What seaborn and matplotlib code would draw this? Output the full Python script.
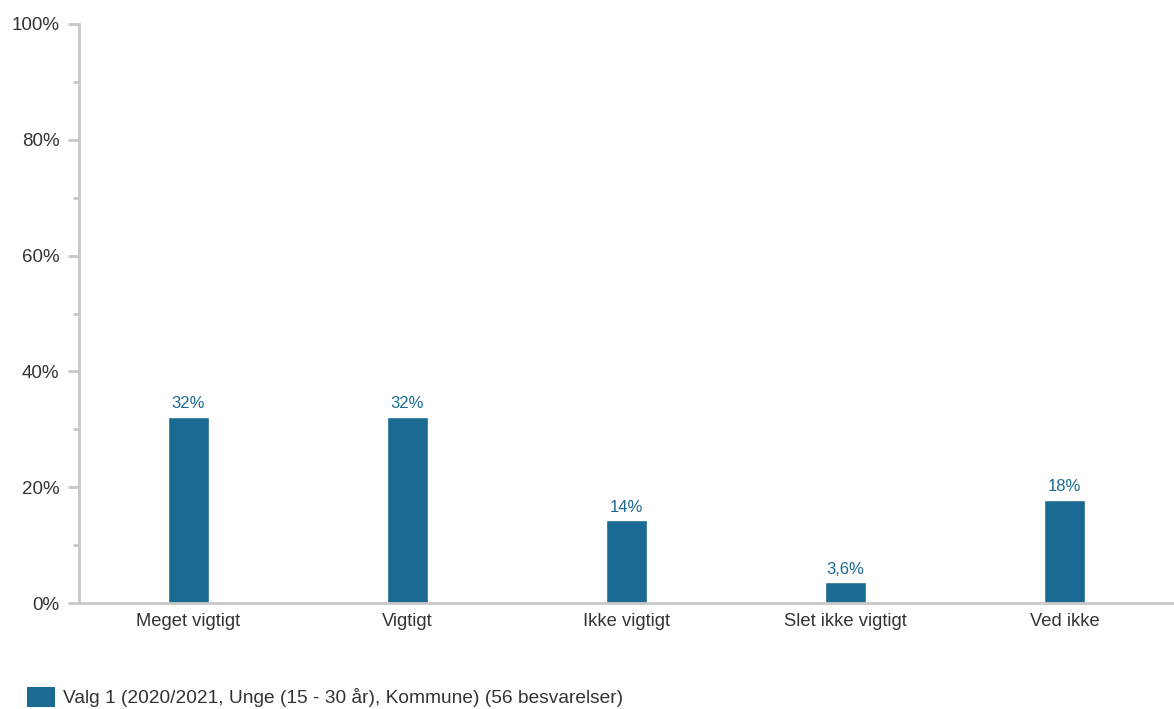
import numpy as np
import pandas as pd
import seaborn as sns
import matplotlib.pyplot as plt
from matplotlib.patches import Patch
from matplotlib.ticker import MultipleLocator, PercentFormatter

categories = ['Meget vigtigt', 'Vigtigt', 'Ikke vigtigt', 'Slet ikke vigtigt', 'Ved ikke']
counts = [18, 18, 8, 2, 10]
total = 56
value_labels = ['32%', '32%', '14%', '3,6%', '18%']
series_name = 'Valg 1 (2020/2021, Unge (15 - 30 år), Kommune) (56 besvarelser)'

bar_color = '#1b6a93'
axis_color = '#c8c8c8'
text_color = '#333333'

df = pd.DataFrame({'kategori': categories, 'andel': [c / total * 100 for c in counts]})

sns.set_style('white')
plt.rcParams['font.family'] = ['Liberation Sans', 'DejaVu Sans']

fig = plt.figure(figsize=(11.74, 7.09), dpi=100)
ax = fig.add_axes([79 / 1174, 1 - 603 / 709, (1174 - 79) / 1174, (603 - 24) / 709])

sns.barplot(data=df, x='kategori', y='andel', color=bar_color, width=0.187,
            saturation=1, ax=ax)

for i, (v, lab) in enumerate(zip(df['andel'], value_labels)):
    ax.annotate(lab, (i, v), xytext=(0, 4), textcoords='offset points',
                ha='center', va='bottom', fontsize=12, color=bar_color)

ax.set_xlim(-0.5, 4.5)
ax.set_ylim(0, 100)
ax.yaxis.set_major_locator(MultipleLocator(20))
ax.yaxis.set_minor_locator(MultipleLocator(10))
ax.yaxis.set_major_formatter(PercentFormatter(decimals=0))
ax.set_xlabel('')
ax.set_ylabel('')

for side in ['top', 'right']:
    ax.spines[side].set_visible(False)
for side in ['left', 'bottom']:
    ax.spines[side].set_color(axis_color)
    ax.spines[side].set_linewidth(2)

ax.tick_params(axis='y', which='major', length=8, width=2, color=axis_color,
               labelsize=13.5, labelcolor=text_color, pad=6, left=True)
ax.tick_params(axis='y', which='minor', length=4, width=2, color=axis_color, left=True)
ax.tick_params(axis='x', length=0, labelsize=13.2, labelcolor=text_color, pad=7)

handles = [Patch(facecolor=bar_color, edgecolor='none', label=series_name)]
fig.legend(handles=handles, loc='center left', bbox_to_anchor=(27 / 1174, 1 - 697 / 709),
           frameon=False, fontsize=13.8, labelcolor=text_color, borderpad=0,
           borderaxespad=0, handlelength=1.45, handleheight=1.2, handletextpad=0.45)

fig.savefig('out.png', dpi=100)
